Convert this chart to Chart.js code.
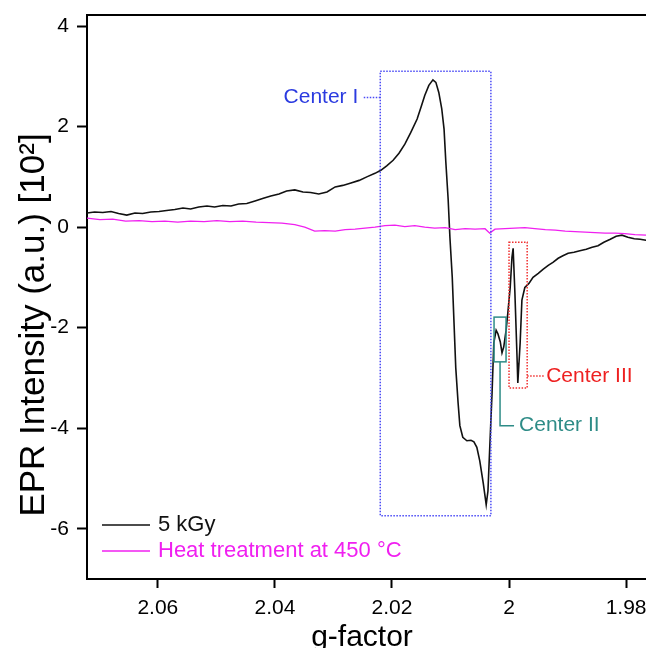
<!DOCTYPE html>
<html lang="en">
<head>
<meta charset="UTF-8">
<title>EPR spectra</title>
<script src="https://cdn.jsdelivr.net/npm/chart.js"></script>
<style>
  html, body { margin: 0; padding: 0; overflow: hidden; background: #fff; }
  .wrap { width: 646px; height: 648px; overflow: hidden; }
</style>
</head>
<body>
<div class="wrap"><canvas id="eprChart" width="680" height="648"></canvas></div>
<script>
// 5 kGy spectrum
const gDose = [2.0721, 2.0708, 2.0694, 2.0680, 2.0667, 2.0653, 2.0639, 2.0626, 2.0612, 2.0598,
  2.0585, 2.0571, 2.0557, 2.0544, 2.0530, 2.0516, 2.0503, 2.0489, 2.0475, 2.0462,
  2.0448, 2.0434, 2.0421, 2.0407, 2.0393, 2.0380, 2.0366, 2.0352, 2.0339, 2.0325,
  2.0311, 2.0297, 2.0284, 2.0270, 2.0256, 2.0243, 2.0229,
  2.0219, 2.0209, 2.0198, 2.0188, 2.0178, 2.0168, 2.0157,
  2.0150, 2.0144, 2.0137, 2.0130, 2.0125, 2.0120, 2.0115, 2.0111, 2.0108, 2.0104, 2.0101, 2.0097, 2.0094, 2.0091, 2.0087, 2.0084,
  2.0079, 2.0072, 2.0065, 2.0060, 2.0055, 2.0050, 2.0044, 2.0039, 2.0036, 2.0033, 2.0029, 2.0026, 2.0022, 2.0019, 2.0015, 2.0012,
  2.0009, 2.0005, 2.0002, 1.9998, 1.9995, 1.9993, 1.9990, 1.9986, 1.9985, 1.9981, 1.9978,
  1.9973, 1.9966, 1.9959, 1.9950, 1.9942, 1.9933, 1.9925, 1.9916, 1.9908, 1.9899, 1.9889, 1.9879,
  1.9868, 1.9858, 1.9848, 1.9838, 1.9827, 1.9817, 1.9807, 1.9797, 1.9786, 1.9776, 1.9766, 1.9745, 1.9725];
const intDose = [0.28, 0.30, 0.29, 0.31, 0.27, 0.24, 0.28, 0.27, 0.30, 0.31,
  0.33, 0.35, 0.38, 0.36, 0.40, 0.42, 0.40, 0.43, 0.42, 0.46,
  0.47, 0.52, 0.57, 0.62, 0.66, 0.72, 0.74, 0.70, 0.69, 0.66,
  0.70, 0.80, 0.83, 0.88, 0.93, 1.00, 1.07,
  1.13, 1.22, 1.33, 1.47, 1.65, 1.88, 2.15,
  2.40, 2.62, 2.82, 2.93, 2.88, 2.68, 2.36, 1.95, 1.30, 0.55, -0.20, -1.00, -1.90, -2.80, -3.50, -3.95,
  -4.18, -4.25, -4.24, -4.27, -4.38, -4.65, -5.10, -5.52, -5.25, -4.40, -3.30, -2.30, -2.05, -2.12, -2.28, -2.50,
  -2.38, -2.05, -1.70, -1.20, -0.60, -0.42, -1.30, -2.70, -3.10, -2.30, -1.45,
  -1.20, -1.12, -1.00, -0.92, -0.84, -0.76, -0.70, -0.62, -0.57, -0.52, -0.50, -0.47,
  -0.44, -0.40, -0.37, -0.30, -0.24, -0.18, -0.16, -0.20, -0.23, -0.24, -0.26, -0.27, -0.28];

// heat treated spectrum
const gHeat = [2.0721, 2.0699, 2.0677, 2.0655, 2.0632, 2.0610, 2.0588, 2.0566, 2.0544, 2.0521,
  2.0499, 2.0477, 2.0455, 2.0432, 2.0410, 2.0388, 2.0366,
  2.0349, 2.0332, 2.0315, 2.0297, 2.0280, 2.0263, 2.0246, 2.0229, 2.0212, 2.0195,
  2.0178, 2.0161, 2.0144, 2.0127, 2.0109, 2.0092, 2.0075, 2.0058, 2.0041,
  2.0033, 2.0024, 2.0007, 1.9990, 1.9973, 1.9956, 1.9938, 1.9921, 1.9904, 1.9887,
  1.9870, 1.9853, 1.9836, 1.9819, 1.9802, 1.9785, 1.9766, 1.9725];
const intHeat = [0.18, 0.15, 0.16, 0.12, 0.13, 0.11, 0.12, 0.10, 0.12, 0.11,
  0.13, 0.11, 0.12, 0.10, 0.09, 0.08, 0.05,
  0.00, -0.08, -0.07, -0.08, -0.05, -0.04, -0.02, 0.00, 0.03, 0.04,
  0.01, 0.03, 0.00, -0.02, -0.01, -0.05, -0.03, -0.04, -0.03,
  -0.12, -0.04, -0.03, -0.02, -0.01, -0.03, -0.05, -0.06, -0.08, -0.09,
  -0.10, -0.11, -0.12, -0.12, -0.13, -0.15, -0.16, -0.18];

const seriesLabels = ['5 kGy', 'Heat treatment at 450 °C'];
const xTicks = [2.06, 2.04, 2.02, 2, 1.98];
const yTicks = [4, 2, 0, -2, -4, -6];
const xTitle = 'g-factor';
const yTitle = 'EPR Intensity (a.u.) [10²]';

// marked centers: g range, intensity range, label height
const centerNames = ['Center I', 'Center II', 'Center III'];
const centerG = [[2.0220, 2.0031], [2.00256, 2.00051], [2.0000, 1.9969]];
const centerY = [[3.10, -5.74], [-1.79, -2.68], [-0.30, -3.20]];
const centerLabelY = [2.58, -3.95, -2.96];

const FONT = '"Liberation Sans", Arial, Helvetica, sans-serif';
const centerColors = ['#2b3be0', '#2e8c87', '#ee2020'];
const boxColors = ['#4a4af5', '#2e8c87', '#f03030'];

const toPoints = (gs, vs) => gs.map((g, i) => ({ x: g, y: vs[i] }));

const overlay = {
  id: 'overlay',
  afterDatasetsDraw(chart) {
    const { ctx, chartArea: a, scales: { x, y } } = chart;
    ctx.save();
    // top frame line
    ctx.strokeStyle = '#000';
    ctx.lineWidth = 2;
    ctx.beginPath();
    ctx.moveTo(a.left, a.top);
    ctx.lineTo(a.right, a.top);
    ctx.stroke();

    ctx.font = '21px ' + FONT;
    ctx.textBaseline = 'middle';
    centerNames.forEach((name, i) => {
      const x1 = x.getPixelForValue(centerG[i][0]);
      const x2 = x.getPixelForValue(centerG[i][1]);
      const y1 = y.getPixelForValue(centerY[i][0]);
      const y2 = y.getPixelForValue(centerY[i][1]);
      const ly = y.getPixelForValue(centerLabelY[i]);
      ctx.strokeStyle = boxColors[i];
      ctx.lineWidth = 1.5;
      ctx.setLineDash(i === 1 ? [] : [1.5, 1.5]);
      ctx.strokeRect(x1, y1, x2 - x1, y2 - y1);
      ctx.beginPath();
      ctx.fillStyle = centerColors[i];
      if (i === 0) {
        ctx.moveTo(x1, ly); ctx.lineTo(x1 - 18, ly); ctx.stroke();
        ctx.textAlign = 'right';
        ctx.fillText(name, x1 - 22, ly);
      } else if (i === 1) {
        const cx = (x1 + x2) / 2;
        ctx.moveTo(cx, y2); ctx.lineTo(cx, ly); ctx.lineTo(cx + 14, ly); ctx.stroke();
        ctx.textAlign = 'left';
        ctx.fillText(name, cx + 19, ly);
      } else {
        ctx.moveTo(x2, ly); ctx.lineTo(x2 + 17, ly); ctx.stroke();
        ctx.textAlign = 'left';
        ctx.fillText(name, x2 + 19, ly);
      }
    });
    ctx.setLineDash([]);

    // legend, lower left inside the plot
    ctx.font = '22px ' + FONT;
    ctx.textAlign = 'left';
    chart.data.datasets.forEach((ds, i) => {
      const ly = a.bottom - 54 + i * 26;
      ctx.strokeStyle = ds.borderColor;
      ctx.lineWidth = 1.5;
      ctx.beginPath();
      ctx.moveTo(a.left + 15, ly);
      ctx.lineTo(a.left + 63, ly);
      ctx.stroke();
      ctx.fillStyle = ds.borderColor;
      ctx.fillText(ds.label, a.left + 71, ly);
    });

    // axis titles (the figure's titles sit off the plot centre)
    ctx.fillStyle = '#000';
    ctx.textAlign = 'center';
    ctx.textBaseline = 'alphabetic';
    ctx.font = '30px ' + FONT;
    ctx.fillText(xTitle, 362, 646);
    ctx.font = '35px ' + FONT;
    ctx.translate(44, 325);
    ctx.rotate(-Math.PI / 2);
    ctx.fillText(yTitle, 0, 0);
    ctx.restore();
  }
};

const ctx = document.getElementById('eprChart').getContext('2d');
const eprChart = new Chart(ctx, {
  type: 'line',
  data: {
    datasets: [{
      label: seriesLabels[0],
      data: toPoints(gDose, intDose),
      borderColor: '#111111',
      borderWidth: 1.6,
      pointRadius: 0,
      order: 1
    }, {
      label: seriesLabels[1],
      data: toPoints(gHeat, intHeat),
      borderColor: '#f020f0',
      borderWidth: 1.4,
      pointRadius: 0,
      order: 0
    }]
  },
  options: {
    responsive: false,
    animation: false,
    layout: { padding: { top: 15, right: 10, left: 0, bottom: 0 } },
    plugins: { legend: { display: false }, tooltip: { enabled: false } },
    scales: {
      x: {
        type: 'linear',
        reverse: true,
        min: 1.9725,
        max: 2.0721,
        afterBuildTicks: s => { s.ticks = xTicks.map(v => ({ value: v })); },
        afterFit: s => { s.height = 69; s.paddingLeft = 0; s.paddingRight = 0; },
        grid: { drawOnChartArea: false, drawTicks: true, tickLength: 9, tickWidth: 2, tickColor: '#000' },
        border: { color: '#000', width: 2 },
        ticks: { color: '#000', autoSkip: false, maxRotation: 0, padding: 8,
          font: { family: FONT, size: 21 }, callback: v => String(v) }
      },
      y: {
        min: -7,
        max: 4.22,
        afterBuildTicks: s => { s.ticks = yTicks.map(v => ({ value: v })); },
        afterFit: s => { s.width = 87; s.paddingTop = 0; s.paddingBottom = 0; },
        grid: { drawOnChartArea: false, drawTicks: true, tickLength: 10, tickWidth: 2, tickColor: '#000' },
        border: { color: '#000', width: 2 },
        ticks: { color: '#000', autoSkip: false, padding: 8,
          font: { family: FONT, size: 21 }, callback: v => String(v) }
      }
    }
  },
  plugins: [overlay]
});
</script>
</body>
</html>
